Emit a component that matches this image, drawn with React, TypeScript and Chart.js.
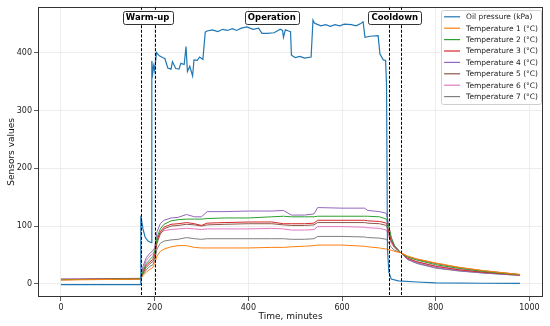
import { useEffect, useRef } from "react";
import { Chart, registerables } from "chart.js";

Chart.register(...registerables);

const seriesLabels = [
  "Oil pressure (kPa)",
  "Temperature 1 (°C)",
  "Temperature 2 (°C)",
  "Temperature 3 (°C)",
  "Temperature 4 (°C)",
  "Temperature 5 (°C)",
  "Temperature 6 (°C)",
  "Temperature 7 (°C)",
];
const seriesColors = ["#1f77b4", "#ff7f0e", "#2ca02c", "#d62728", "#9467bd", "#8c564b", "#e377c2", "#7f7f7f"];

const oilTime = [0, 170, 170.5, 175, 180, 186, 193, 194, 196, 198, 200, 204, 210, 217, 222, 228, 235, 238, 245, 252, 256, 263, 267, 270, 275, 281, 284, 291, 296, 303, 308, 312, 323, 335, 345, 355, 366, 375, 385, 397, 410, 422, 429, 440, 455, 468, 473, 475, 479, 486, 490, 492, 500, 510, 520, 534, 538, 541, 546, 555, 565, 575, 585, 595, 605, 620, 630, 640, 645, 649, 660, 677, 681, 688, 693, 695, 697, 700, 705, 720, 760, 800, 900, 980];
const oilPressure = [-1.5, -1.5, 118, 95, 80, 74, 71, 386, 365, 378, 370, 401, 395, 392, 390, 374, 372, 385, 373, 372, 382, 380, 411, 368, 377, 360, 388, 387, 393, 389, 436, 438, 440, 437, 441, 439, 442, 439, 443, 445, 441, 443, 434, 434, 435, 441, 439, 427, 440, 438, 437, 396, 392, 394, 391, 393, 457, 452, 450, 447, 449, 446, 449, 447, 450, 449, 447, 451, 454, 427, 429, 430, 398, 388, 387, 345, 60, 20, 8, 5, 3, 1.5, 0.8, 0.5];

const tempTime = [0, 60, 120, 170, 175, 182, 190, 196, 200, 205, 212, 220, 235, 250, 268, 285, 300, 312, 350, 400, 450, 475, 492, 520, 540, 548, 600, 648, 655, 680, 695, 700, 705, 712, 725, 740, 760, 800, 850, 900, 950, 980];
const temp1 = [6.5, 7, 7.5, 8, 14, 20, 25, 28, 35, 48, 56, 60, 64, 66, 66, 63, 62, 62, 62, 62, 63, 63, 64, 65, 66, 67, 67, 65, 64, 62, 60, 59, 58, 56, 54, 48, 43, 36, 28.5, 23, 18.5, 16];
const temp2 = [7, 7.5, 8, 8.5, 22, 35, 42, 47, 55, 80, 95, 103, 109, 111, 112, 112, 112, 113, 114, 114, 116, 117, 116, 116, 116, 117, 117, 117, 117, 116, 112, 98, 80, 66, 54, 46, 41, 33, 26.5, 21.5, 17.5, 15.5];
const temp3 = [7, 7.5, 8, 8.5, 20, 32, 38, 42, 50, 75, 90, 98, 103, 104, 106, 104, 101, 105, 106, 107, 107, 104, 104, 104, 105, 110, 110, 110, 109, 108, 105, 90, 75, 64, 54, 44, 38, 30, 24, 20, 17, 15];
const temp4 = [8, 8, 8.5, 9, 30, 45, 53, 57, 62, 90, 104, 110, 114, 115, 120, 116, 116, 125, 125, 126, 126, 127, 119, 119, 121, 132, 131, 131, 127, 125, 122, 100, 80, 66, 54, 42, 36, 28, 22.5, 19, 16, 14.5];
const temp5 = [7.5, 8, 8.5, 9, 18, 28, 35, 38, 45, 70, 86, 95, 100, 101, 103, 102, 100, 102, 103, 104, 104, 102, 101, 101, 102, 106, 106, 106, 105, 104, 101, 88, 74, 64, 54, 47, 42, 35, 28, 22.5, 18.5, 16];
const temp6 = [8, 8.5, 9, 9.5, 25, 40, 48, 52, 58, 78, 88, 92, 94, 95, 96, 95, 94, 95, 95, 95, 96, 95, 93, 93, 94, 99, 99, 98, 97, 96, 93, 82, 70, 62, 54, 44, 38, 31, 25, 20.5, 17, 15];
const temp7 = [7, 7.5, 8, 8.5, 16, 24, 30, 33, 40, 60, 70, 74, 76, 77, 80, 78, 77, 78, 78, 78, 78, 78, 77, 77, 78, 82, 82, 81, 80, 79, 77, 70, 63, 58, 54, 42, 35, 27, 22, 18.5, 16, 14.5];

const phaseBounds = [170, 200, 700, 725];
const phaseNames = ["Warm-up", "Operation", "Cooldown"];
const phaseCenters = [185, 450, 712.5];
const phaseLabelY = 462;

const xTicks = [0, 200, 400, 600, 800, 1000];
const yTicks = [0, 100, 200, 300, 400];

const FONT = '"DejaVu Sans", sans-serif';

const overlayPlugin = {
  id: "overlay",
  afterDatasetsDraw(chart: any) {
    const { ctx, chartArea: a, scales } = chart;
    const xs = scales.x;
    const ys = scales.y;
    ctx.save();
    ctx.strokeStyle = "#000";
    ctx.lineWidth = 1;
    ctx.setLineDash([3, 1.6]);
    for (const b of phaseBounds) {
      const px = Math.round(xs.getPixelForValue(b)) + 0.5;
      ctx.beginPath();
      ctx.moveTo(px, a.top);
      ctx.lineTo(px, a.bottom);
      ctx.stroke();
    }
    ctx.setLineDash([]);
    ctx.strokeStyle = "#333";
    ctx.lineWidth = 1;
    ctx.strokeRect(Math.round(a.left) + 0.5, Math.round(a.top) + 0.5, Math.round(a.right - a.left) - 1, Math.round(a.bottom - a.top) - 1);
    ctx.font = `bold 8.5px ${FONT}`;
    ctx.textAlign = "center";
    ctx.textBaseline = "middle";
    phaseNames.forEach((name, i) => {
      const cx = xs.getPixelForValue(phaseCenters[i]);
      const cy = ys.getPixelForValue(phaseLabelY);
      const w = ctx.measureText(name).width + 6;
      const h = 13;
      ctx.beginPath();
      ctx.roundRect(Math.round(cx - w / 2) + 0.5, Math.round(cy - h / 2) + 0.5, Math.round(w), Math.round(h), 2);
      ctx.fillStyle = "#fff";
      ctx.fill();
      ctx.strokeStyle = "#333";
      ctx.stroke();
      ctx.fillStyle = "#000";
      ctx.fillText(name, cx, cy + 0.5);
    });
    ctx.font = `7.5px ${FONT}`;
    ctx.textAlign = "left";
    let maxW = 0;
    seriesLabels.forEach((l) => (maxW = Math.max(maxW, ctx.measureText(l).width)));
    const rowH = 11.4;
    const boxW = 3 + 16 + 6 + maxW + 3;
    const boxH = 7 + (seriesLabels.length - 1) * rowH + 7;
    const bx = a.right - 2 - boxW;
    const by = a.top + 3;
    ctx.beginPath();
    ctx.roundRect(Math.round(bx) + 0.5, Math.round(by) + 0.5, Math.round(boxW), Math.round(boxH), 2);
    ctx.fillStyle = "rgba(255,255,255,0.85)";
    ctx.fill();
    ctx.strokeStyle = "#d0d0d0";
    ctx.stroke();
    seriesLabels.forEach((l, i) => {
      const yy = by + 7 + i * rowH;
      ctx.strokeStyle = seriesColors[i];
      ctx.lineWidth = 1.2;
      ctx.beginPath();
      ctx.moveTo(bx + 3, yy);
      ctx.lineTo(bx + 19, yy);
      ctx.stroke();
      ctx.fillStyle = "#222";
      ctx.fillText(l, bx + 25, yy + 0.5);
    });
    ctx.restore();
  },
};

function pts(xsArr: number[], ysArr: number[]) {
  return xsArr.map((x, i) => ({ x, y: ysArr[i] }));
}

export default function App() {
  const ref = useRef<HTMLCanvasElement | null>(null);
  useEffect(() => {
    if (!ref.current) return;
    const temps = [temp1, temp2, temp3, temp4, temp5, temp6, temp7];
    const datasets: any[] = [
      {
        label: seriesLabels[0],
        data: pts(oilTime, oilPressure),
        borderColor: seriesColors[0],
        borderWidth: 1.2,
        pointRadius: 0,
        order: 0,
      },
      ...temps.map((t, i) => ({
        label: seriesLabels[i + 1],
        data: pts(tempTime, t),
        borderColor: seriesColors[i + 1],
        borderWidth: 1,
        pointRadius: 0,
        order: 1,
      })),
    ];
    const chart = new Chart(ref.current, {
      type: "line",
      data: { datasets },
      options: {
        animation: false,
        responsive: false,
        layout: { padding: { left: 0, right: 7, top: 4, bottom: 0 } },
        plugins: { legend: { display: false }, tooltip: { enabled: false } },
        elements: { line: { tension: 0 } },
        scales: {
          x: {
            type: "linear",
            min: -49,
            max: 1029,
            afterBuildTicks: (s: any) => {
              s.ticks = xTicks.map((v) => ({ value: v }));
            },
            afterFit: (s: any) => {
              s.height = 29;
            },
            ticks: { autoSkip: false, maxRotation: 0, padding: 2, color: "#222", font: { family: FONT, size: 8 }, callback: (v: any) => String(v) },
            grid: { color: "#e8e8e8", lineWidth: 0.8, tickColor: "#333", tickLength: 4, drawTicks: true },
            border: { display: false },
            title: { display: true, text: "Time, minutes", color: "#111", font: { family: FONT, size: 9 }, padding: { top: 0, bottom: 4 } },
          },
          y: {
            type: "linear",
            min: -23,
            max: 480,
            afterBuildTicks: (s: any) => {
              s.ticks = yTicks.map((v) => ({ value: v }));
            },
            afterFit: (s: any) => {
              s.width = 38;
            },
            ticks: { autoSkip: false, padding: 2, color: "#222", font: { family: FONT, size: 8 }, callback: (v: any) => String(v) },
            grid: { color: "#e8e8e8", lineWidth: 0.8, tickColor: "#333", tickLength: 4, drawTicks: true },
            border: { display: false },
            title: { display: true, text: "Sensors values", color: "#111", font: { family: FONT, size: 9 }, padding: { top: 6.5, bottom: 0 } },
          },
        },
      },
      plugins: [overlayPlugin],
    });
    return () => chart.destroy();
  }, []);
  return (
    <div style={{ position: "absolute", left: 0, top: 0, width: 550, height: 326, background: "#fff" }}>
      <canvas ref={ref} width={550} height={326} style={{ display: "block" }} />
    </div>
  );
}
